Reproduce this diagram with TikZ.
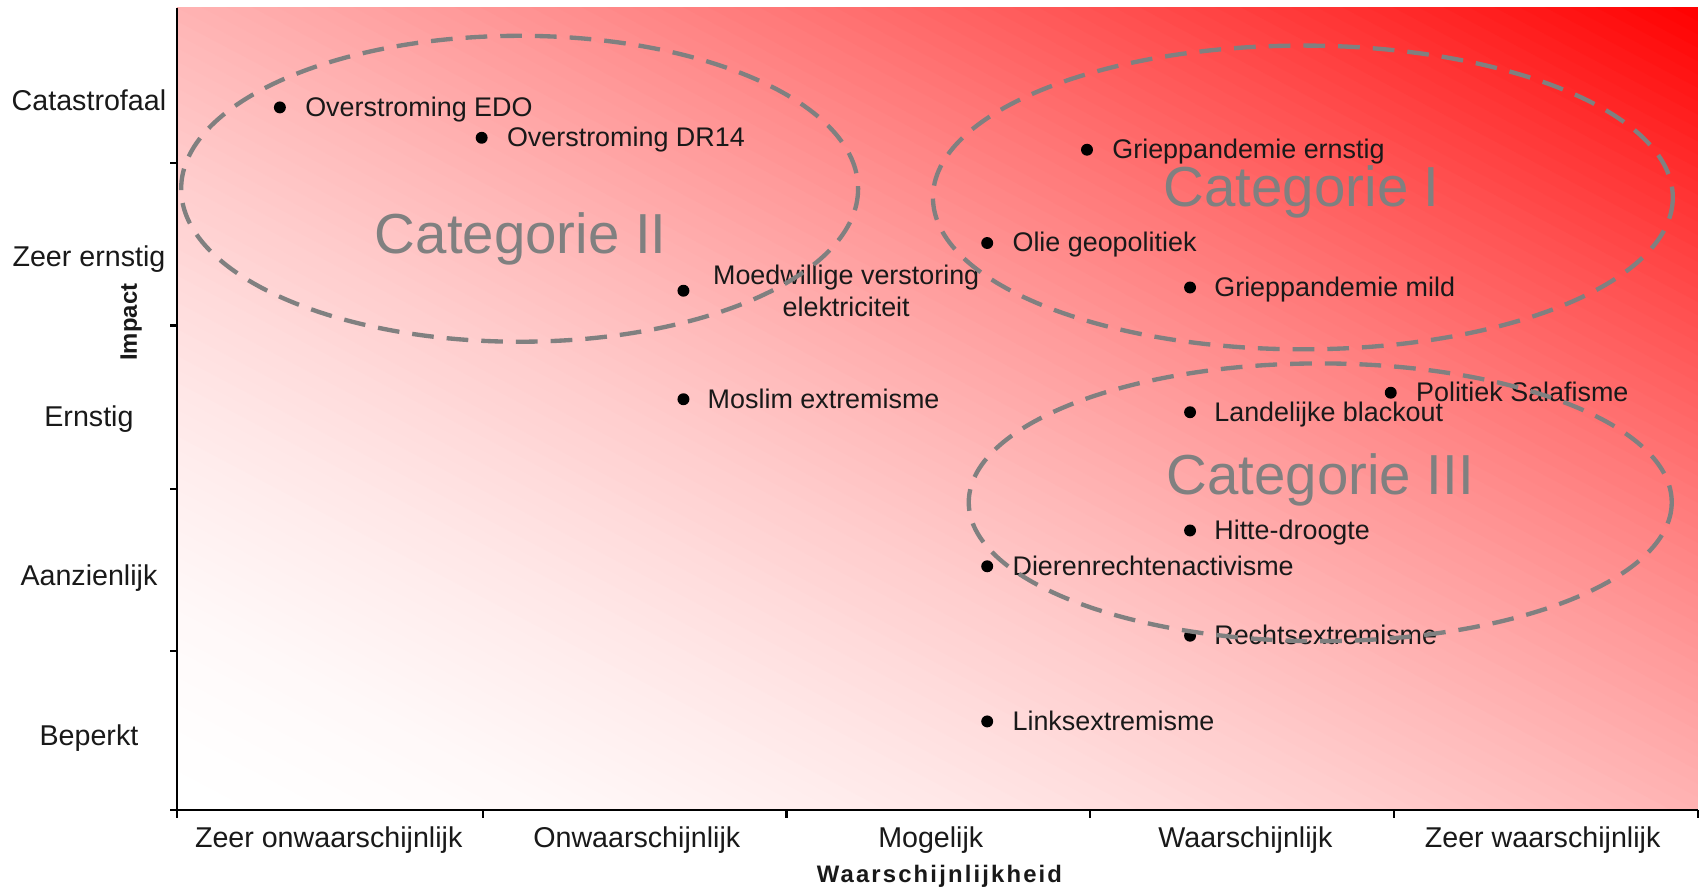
\documentclass[tikz,border=0pt]{standalone}
\usepackage{fontspec}
\setmainfont{Liberation Sans}
\begin{document}
\begin{tikzpicture}[x=0.5pt,y=-0.5pt,
  axislbl/.style={font=\fontsize{13.2}{15}\selectfont, text=black!90, inner sep=0},
  ptlbl/.style={font=\fontsize{12.4}{15}\selectfont, text=black!90, inner sep=0, anchor=mid west},
  ptdot/.style={circle, fill=black, inner sep=0, minimum size=5.5pt},
  catlbl/.style={font=\fontsize{26}{30}\selectfont, text=black!50, inner sep=0},
  catell/.style={draw=black!50, line width=2pt, dash pattern=on 10pt off 6pt},
  ttl/.style={font=\bfseries\fontsize{11}{13}\selectfont, text=black!90, inner sep=0},
  axisline/.style={draw=black, line width=1pt}]
\useasboundingbox (0,0) rectangle (1568,821);
\fill[white] (0,0) rectangle (1568,821);
% gradient background
\begin{scope}
\clip (163,7) rectangle (1565,747);
\foreach \i in {0,...,119}{
  \pgfmathsetmacro\sa{2*\i/120}
  \pgfmathsetmacro\sb{2*(\i+1)/120+0.01}
  \pgfmathsetmacro\f{100*((\i+0.5)/120)^1.75}
  \fill[red!\f!white] ({163+1402*(\sa+1)},1487) -- (-1239,{747-740*(\sa+1)}) -- (-1239,{747-740*(\sb+1)}) -- ({163+1402*(\sb+1)},1487) -- cycle;
}
\end{scope}
% axes
\draw[axisline] (163,7) -- (163,747) -- (1565,747);
\foreach \y in {150,300,451,600,747} \draw[axisline] (157,\y) -- (163,\y);
\foreach \x in {163,445,725,1005,1285,1565} \draw[axisline] (\x,747) -- (\x,754);
% axis labels
\node[axislbl] (y1) at (82,92) {Catastrofaal};
\node[axislbl] (y2) at (82,239) {Zeer ernstig};
\node[axislbl] (y3) at (82,386) {Ernstig};
\node[axislbl] (y4) at (82,533) {Aanzienlijk};
\node[axislbl] (y5) at (82,680) {Beperkt};
\node[axislbl] (x1) at (303,774) {Zeer onwaarschijnlijk};
\node[axislbl] (x2) at (587,774) {Onwaarschijnlijk};
\node[axislbl] (x3) at (858,774) {Mogelijk};
\node[axislbl] (x4) at (1148,774) {Waarschijnlijk};
\node[axislbl] (x5) at (1422,774) {Zeer waarschijnlijk};
\node[ttl, rotate=90] (ytitle) at (121,297) {Impact};
\node[ttl] (xtitle) at (866,808) {\addfontfeature{LetterSpace=9}Waarschijnlijkheid};
% category labels
\node[catlbl] (cat2) at (480,220) {Categorie II};
\node[catlbl] (cat1) at (1200,177) {Categorie I};
\node[catlbl] (cat3) at (1217,442) {Categorie III};
% points
\node[ptdot] (p1) at (258,99) {};
\node[ptlbl] (l1) at (281,102) {Overstroming EDO};
\node[ptdot] (p2) at (444,127) {};
\node[ptlbl] (l2) at (467,130) {Overstroming DR14};
\node[ptdot] (p3) at (1002,138) {};
\node[ptlbl] (l3) at (1025,141) {Grieppandemie ernstig};
\node[ptdot] (p4) at (910,224) {};
\node[ptlbl] (l4) at (933,227) {Olie geopolitiek};
\node[ptdot] (p5) at (630,268) {};
\node[ptlbl, anchor=center, align=center] (l5) at (780,268) {Moedwillige verstoring\\elektriciteit};
\node[ptdot] (p6) at (1097,265) {};
\node[ptlbl] (l6) at (1119,268) {Grieppandemie mild};
\node[ptdot] (p7) at (1282,362) {};
\node[ptlbl] (l7) at (1305,365) {Politiek Salafisme};
\node[ptdot] (p8) at (630,368) {};
\node[ptlbl] (l8) at (652,371) {Moslim extremisme};
\node[ptdot] (p9) at (1097,380) {};
\node[ptlbl] (l9) at (1119,383) {Landelijke blackout};
\node[ptdot] (p10) at (1097,489) {};
\node[ptlbl] (l10) at (1119,492) {Hitte-droogte};
\node[ptdot] (p11) at (910,522) {};
\node[ptlbl] (l11) at (933,525) {Dierenrechtenactivisme};
\node[ptdot] (p12) at (1097,586) {};
\node[ptlbl] (l12) at (1119,589) {Rechtsextremisme};
\node[ptdot] (p13) at (910,665) {};
\node[ptlbl] (l13) at (933,668) {Linksextremisme};
% category ellipses
\draw[catell] (479,174) ellipse [x radius=312, y radius=141];
\draw[catell] (1201,182) ellipse [x radius=341, y radius=140];
\draw[catell] (1217,463) ellipse [x radius=324, y radius=128];
\end{tikzpicture}
\end{document}
